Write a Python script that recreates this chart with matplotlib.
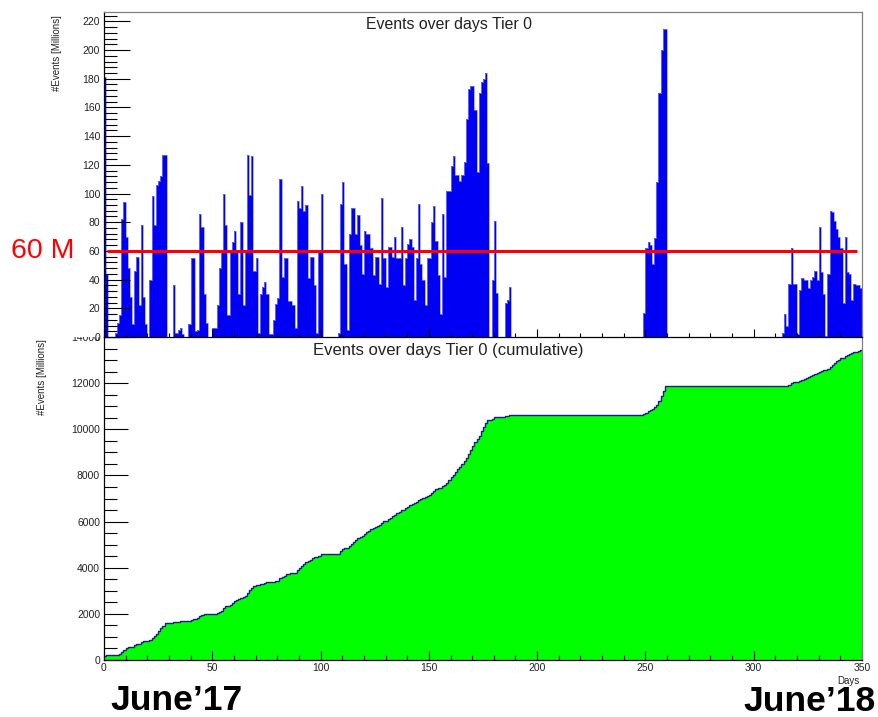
"""Tier 0 events per day and cumulative, June'17 - June'18."""

import numpy as np
import matplotlib

matplotlib.use("Agg")
import matplotlib.pyplot as plt
from matplotlib.patches import Rectangle
from matplotlib.ticker import MultipleLocator

plt.rcParams["font.family"] = ["Liberation Sans", "DejaVu Sans"]

N_DAYS = 350
THRESHOLD = 60  # millions of events per day

# daily events [millions]
days_000_059 = [181, 44, 0, 0, 0, 3, 10, 15, 82, 94, 70, 48, 28, 9, 46, 56, 22, 78, 28, 9,
                0, 40, 98, 78, 106, 109, 112, 127, 127, 0, 0, 0, 36, 3, 5, 6, 2, 0, 0, 9,
                55, 55, 4, 5, 86, 77, 30, 10, 0, 0, 6, 6, 22, 48, 60, 100, 78, 15, 60, 66]
days_060_121 = [74, 60, 30, 80, 22, 60, 127, 99, 126, 46, 55, 3, 30, 35, 38, 30, 2, 2, 12, 23,
                27, 110, 42, 55, 55, 25, 25, 22, 6, 95, 90, 105, 88, 92, 41, 56, 56, 36, 3, 60,
                100, 0, 0, 0, 0, 0, 0, 0, 3, 93, 108, 51, 5, 72, 90, 90, 72, 85, 64, 44,
                74, 72]
days_122_187 = [72, 62, 43, 56, 56, 37, 97, 55, 35, 63, 63, 56, 70, 55, 55, 77, 36, 55, 65, 68,
                63, 26, 55, 93, 51, 40, 22, 55, 55, 80, 91, 67, 43, 16, 86, 42, 102, 102, 119, 126,
                113, 113, 109, 113, 122, 152, 173, 175, 175, 158, 115, 170, 178, 180, 184, 121, 0, 40, 81, 31,
                0, 0, 0, 24, 26, 35]
days_249_259 = [17, 62, 66, 64, 51, 69, 108, 170, 200, 215, 215]
days_313_349 = [3, 16, 8, 37, 62, 37, 37, 2, 33, 41, 40, 40, 34, 40, 42, 46, 40, 77, 45, 30,
                1, 44, 88, 87, 81, 75, 70, 62, 24, 70, 45, 44, 26, 37, 36, 36, 34]

daily = np.zeros(N_DAYS)
daily[0:60] = days_000_059
daily[60:122] = days_060_121
daily[122:188] = days_122_187
daily[249:260] = days_249_259
daily[313:350] = days_313_349
cumulative = np.cumsum(daily)
edges = np.arange(N_DAYS + 1)

W, H = 879, 717
fig = plt.figure(figsize=(W / 100, H / 100), dpi=100)
ax_top = fig.add_axes([104 / W, 1 - 337 / H, 758 / W, 325 / H], zorder=2)
ax_bot = fig.add_axes([104 / W, 1 - 660 / H, 758 / W, 323 / H], zorder=0)

tick_col = "#222222"

# upper panel: daily events
ax_top.stairs(daily, edges, fill=True, color="#0000f5", lw=0)
ax_top.stairs(daily, edges, baseline=None, color="#8c8cdc", lw=0.5)
ax_top.hlines(THRESHOLD, 1.5, 347.5, color="#ff0000", lw=2.2, zorder=3)
ax_top.set_xlim(0, N_DAYS)
ax_top.set_ylim(0, 226.5)
ax_top.xaxis.set_major_locator(MultipleLocator(50))
ax_top.xaxis.set_minor_locator(MultipleLocator(10))
ax_top.yaxis.set_major_locator(MultipleLocator(20))
ax_top.yaxis.set_minor_locator(MultipleLocator(4))
ax_top.tick_params(axis="x", which="both", direction="in", labelbottom=False, width=0.8)
ax_top.tick_params(axis="x", which="major", length=5.8)
ax_top.tick_params(axis="x", which="minor", length=2.9)
ax_top.tick_params(axis="y", which="both", direction="in", width=0.8, pad=2.8,
                   labelsize=7.5, labelcolor=tick_col)
ax_top.tick_params(axis="y", which="major", length=18.5)
ax_top.tick_params(axis="y", which="minor", length=9.3)

# lower panel: cumulative
ax_bot.stairs(cumulative, edges, fill=True, color="#00ff00", lw=0)
ax_bot.stairs(cumulative, edges, baseline=None, color="#1a1a8c", lw=1.0)
ax_bot.set_xlim(0, N_DAYS)
ax_bot.set_ylim(0, 14000)
ax_bot.xaxis.set_major_locator(MultipleLocator(50))
ax_bot.xaxis.set_minor_locator(MultipleLocator(10))
ax_bot.yaxis.set_major_locator(MultipleLocator(2000))
ax_bot.yaxis.set_minor_locator(MultipleLocator(500))
ax_bot.tick_params(axis="both", which="both", direction="in", width=0.8,
                   labelsize=7.5, labelcolor=tick_col)
ax_bot.tick_params(axis="x", which="major", length=6.7, pad=2.5)
ax_bot.tick_params(axis="x", which="minor", length=3.6)
ax_bot.tick_params(axis="y", which="major", length=17.5, pad=2.8)
ax_bot.tick_params(axis="y", which="minor", length=9.3)

for ax in (ax_top, ax_bot):
    ax.spines["left"].set_color("black")
    ax.spines["bottom"].set_color("black")
    ax.spines["right"].set_color("#808080")
    ax.spines["top"].set_color("#808080")
    for s in ax.spines.values():
        s.set_linewidth(0.9)
ax_bot.spines["top"].set_visible(False)

# the upper pad hides the top half of the "14000" label
fig.add_artist(Rectangle((0, 1 - 337 / H), 103 / W, 337 / H, transform=fig.transFigure,
                         facecolor="white", edgecolor="none", zorder=1))

fig.text(449 / W, 1 - 24 / H, "Events over days Tier 0", ha="center", va="center",
         fontsize=11.4, color="#222222")
fig.text(448 / W, 1 - 351 / H, "Events over days Tier 0 (cumulative)", ha="center",
         va="center", fontsize=12, color="#222222")
fig.text(57 / W, 1 - 15 / H, "#Events [Millions]", rotation=90, ha="center", va="top",
         fontsize=7, color="#222222")
fig.text(42 / W, 1 - 339 / H, "#Events [Millions]", rotation=90, ha="center", va="top",
         fontsize=7, color="#222222")
fig.text(860 / W, 1 - 681 / H, "Days", ha="right", va="center", fontsize=7, color="#222222")
fig.text(43 / W, 1 - 251 / H, "60 M", ha="center", va="center", fontsize=20.5, color="#ff0000")
fig.text(110 / W, 1 - 710 / H, "June\u201917", ha="left", va="baseline", fontsize=25.5,
         fontweight="bold", color="black")
fig.text(743 / W, 1 - 711 / H, "June\u201918", ha="left", va="baseline", fontsize=25.5,
         fontweight="bold", color="black")

fig.savefig("out.png", dpi=100)
